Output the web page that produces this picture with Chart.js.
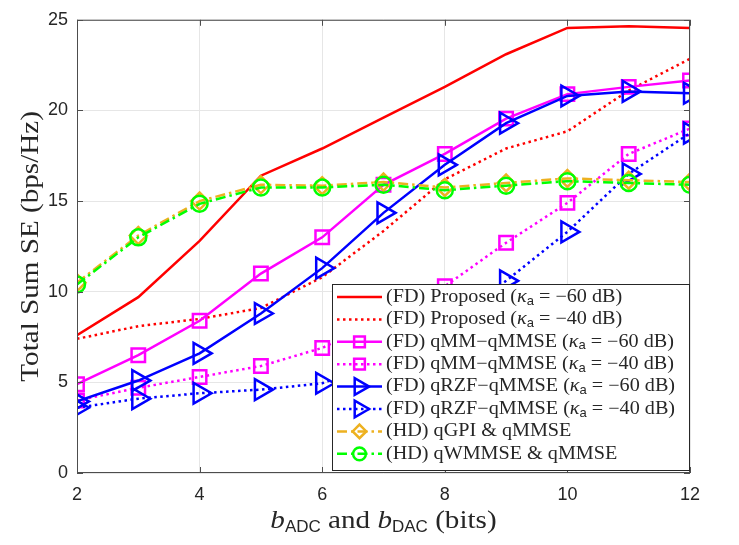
<!DOCTYPE html>
<html>
<head>
<meta charset="utf-8">
<script src="https://cdn.jsdelivr.net/npm/chart.js@4.4.1/dist/chart.umd.min.js"></script>
<style>
  html, body { margin: 0; padding: 0; background: #fff; }
  #wrap { width: 739px; height: 545px; }
</style>
</head>
<body>
<div id="wrap"><canvas id="chartSE" width="739" height="545"></canvas></div>
<script>
// bits on x axis
const bits = [2, 3, 4, 5, 6, 7, 8, 9, 10, 11, 12];
// total sum SE values (bps/Hz)
const proposed60 = [7.6, 9.7, 12.8, 16.4, 17.9, 19.6, 21.3, 23.1, 24.55, 24.65, 24.55];
const proposed40 = [7.4, 8.1, 8.5, 9.1, 10.8, 13.35, 16.2, 17.9, 18.85, 21.1, 22.85];
const qmm60 = [4.9, 6.5, 8.4, 11.0, 13.0, 15.9, 17.6, 19.55, 20.9, 21.3, 21.65];
const qmm40 = [4.0, 4.7, 5.3, 5.9, 6.9, 8.5, 10.3, 12.7, 14.9, 17.6, 19.0];
const qrzf60 = [3.95, 5.1, 6.6, 8.8, 11.3, 14.35, 17.0, 19.3, 20.8, 21.05, 20.95];
const qrzf40 = [3.6, 4.1, 4.4, 4.6, 4.95, 6.2, 8.2, 10.6, 13.3, 16.5, 18.75];
const qgpi = [10.5, 13.1, 15.0, 15.9, 15.85, 16.05, 15.75, 16.0, 16.25, 16.15, 16.05];
const qwmmse = [10.4, 13.0, 14.85, 15.75, 15.75, 15.9, 15.6, 15.85, 16.1, 16.0, 15.9];
const xTicks = [2, 4, 6, 8, 10, 12];
const yTicks = [0, 5, 10, 15, 20, 25];

// legend labels: [prefix, kappa value or null]
const legendNames = [
  ["(FD) Proposed (", "60"],
  ["(FD) Proposed (", "40"],
  ["(FD) qMM\u2212qMMSE (", "60"],
  ["(FD) qMM\u2212qMMSE (", "40"],
  ["(FD) qRZF\u2212qMMSE (", "60"],
  ["(FD) qRZF\u2212qMMSE (", "40"],
  ["(HD) qGPI & qMMSE", null],
  ["(HD) qWMMSE & qMMSE", null],
];

const RED = "#ff0000", MAG = "#ff00ff", BLUE = "#0000ff", GOLD = "#edb120", GREEN = "#00ff00";
const SOLID = [], DOT = [2.5, 3.5], DASHDOT = [10, 4, 2.5, 4];
const SERIF = "'Liberation Serif', 'DejaVu Serif', serif";
const SANS = "'Liberation Sans', Arial, sans-serif";

function pts(ys) {
  return bits.map((b, i) => ({ x: b, y: ys[i] }));
}

function ds(label, ys, color, dash, marker, radius, rot) {
  return {
    label: label,
    data: pts(ys),
    borderColor: color,
    backgroundColor: color,
    borderWidth: 2.5,
    borderDash: dash,
    pointStyle: marker || false,
    pointRadius: marker ? radius : 0,
    pointRotation: rot || 0,
    pointBorderColor: color,
    pointBackgroundColor: "rgba(0,0,0,0)",
    pointBorderWidth: 2.5,
    pointHoverRadius: marker ? radius : 0,
    tension: 0,
    fill: false,
  };
}

const sets = [
  ds("p60", proposed60, RED, SOLID, null),
  ds("p40", proposed40, RED, DOT, null),
  ds("m60", qmm60, MAG, SOLID, "rect", 9.5),
  ds("m40", qmm40, MAG, DOT, "rect", 9.5),
  ds("r60", qrzf60, BLUE, SOLID, "triangle", 12, 90),
  ds("r40", qrzf40, BLUE, DOT, "triangle", 12, 90),
  ds("gpi", qgpi, GOLD, DASHDOT, "rectRot", 8.5),
  ds("wmmse", qwmmse, GREEN, DASHDOT, "circle", 8),
];
// later series drawn on top like matlab
sets.forEach((s, i) => { s.order = sets.length - i; });

function marker(ctx, style, r, x, y, rot) {
  ctx.beginPath();
  if (style === "rect") {
    const s = Math.SQRT1_2 * r;
    ctx.rect(x - s, y - s, 2 * s, 2 * s);
  } else if (style === "rectRot") {
    ctx.moveTo(x, y - r); ctx.lineTo(x + r, y); ctx.lineTo(x, y + r); ctx.lineTo(x - r, y); ctx.closePath();
  } else if (style === "circle") {
    ctx.arc(x, y, r, 0, Math.PI * 2);
  } else if (style === "triangle") {
    const a0 = (rot - 90) * Math.PI / 180;
    for (let k = 0; k < 3; k++) {
      const a = a0 + k * 2 * Math.PI / 3;
      const px = x + Math.cos(a) * r, py = y + Math.sin(a) * r;
      if (k === 0) ctx.moveTo(px, py); else ctx.lineTo(px, py);
    }
    ctx.closePath();
  }
  ctx.stroke();
}

// text pieces, stretched a little so Liberation Serif matches the wider TeX font
function drawParts(ctx, parts, x, y, centered, stretch) {
  ctx.textBaseline = "middle";
  ctx.textAlign = "left";
  let w = 0;
  parts.forEach(p => { ctx.font = p.f; w += ctx.measureText(p.t).width * (p.s || stretch); });
  let cx = centered ? x - w / 2 : x;
  parts.forEach(p => {
    const k = p.s || stretch;
    ctx.font = p.f;
    ctx.save();
    ctx.translate(cx, y + p.dy);
    ctx.scale(k, 1);
    ctx.fillText(p.t, 0, 0);
    ctx.restore();
    cx += ctx.measureText(p.t).width * k;
  });
}

// frame, inner ticks, axis titles and legend
const decorPlugin = {
  id: "decor",
  afterDraw(chart) {
    const ctx = chart.ctx;
    const a = chart.chartArea;
    const sx = chart.scales.x, sy = chart.scales.y;
    ctx.save();
    // box
    ctx.strokeStyle = "#4d4d4d";
    ctx.lineWidth = 1;
    ctx.setLineDash([]);
    ctx.strokeRect(a.left + 0.5, a.top + 0.5, a.right - a.left - 1, a.bottom - a.top - 1);
    // inward ticks
    ctx.beginPath();
    xTicks.forEach(v => {
      const px = Math.round(sx.getPixelForValue(v)) + 0.5;
      ctx.moveTo(px, a.bottom); ctx.lineTo(px, a.bottom - 6);
      ctx.moveTo(px, a.top); ctx.lineTo(px, a.top + 6);
    });
    yTicks.forEach(v => {
      const py = Math.round(sy.getPixelForValue(v)) + 0.5;
      ctx.moveTo(a.left, py); ctx.lineTo(a.left + 6, py);
      ctx.moveTo(a.right, py); ctx.lineTo(a.right - 6, py);
    });
    ctx.stroke();

    // y title
    ctx.fillStyle = "#262626";
    ctx.save();
    ctx.translate(31, (a.top + a.bottom) / 2);
    ctx.rotate(-Math.PI / 2);
    drawParts(ctx, [{ t: "Total Sum SE (bps/Hz)", f: "26px " + SERIF, dy: 0 }], 0, 0, true, 1.12);
    ctx.restore();

    // x title with subscripts
    const xParts = [
      { t: "b", f: "italic 26px " + SERIF, dy: 0 },
      { t: "ADC", f: "17px " + SANS, dy: 6, s: 1 },
      { t: " and ", f: "26px " + SERIF, dy: 0 },
      { t: "b", f: "italic 26px " + SERIF, dy: 0 },
      { t: "DAC", f: "17px " + SANS, dy: 6, s: 1 },
      { t: " (bits)", f: "26px " + SERIF, dy: 0 },
    ];
    drawParts(ctx, xParts, (a.left + a.right) / 2, 521, true, 1.12);

    // legend
    const bw = 357, bh = 186;
    const bx = a.right - bw - 1, by = a.bottom - bh - 3;
    ctx.fillStyle = "#fff";
    ctx.fillRect(bx, by, bw, bh);
    ctx.strokeStyle = "#262626";
    ctx.lineWidth = 1;
    ctx.strokeRect(bx + 0.5, by + 0.5, bw, bh);
    sets.forEach((s, i) => {
      const yy = by + 13 + i * 22.4;
      const x0 = bx + 5, x1 = bx + 50;
      ctx.strokeStyle = s.borderColor;
      ctx.lineWidth = 2.5;
      ctx.setLineDash(s.borderDash);
      ctx.beginPath();
      ctx.moveTo(x0, yy); ctx.lineTo(x1, yy);
      ctx.stroke();
      ctx.setLineDash([]);
      if (s.pointStyle) marker(ctx, s.pointStyle, s.pointRadius * 0.8, (x0 + x1) / 2, yy, s.pointRotation);
      const nm = legendNames[i];
      const parts = [{ t: nm[0], f: "18px " + SERIF, dy: 0 }];
      if (nm[1]) {
        parts.push({ t: "\u03ba", f: "italic 18px " + SERIF, dy: 0 });
        parts.push({ t: "a", f: "13px " + SANS, dy: 4, s: 1 });
        parts.push({ t: " = \u2212" + nm[1] + " dB)", f: "18px " + SERIF, dy: 0 });
      }
      ctx.fillStyle = "#262626";
      drawParts(ctx, parts, x1 + 4, yy, false, 1.12);
    });
    ctx.restore();
  }
};

new Chart(document.getElementById("chartSE"), {
  type: "line",
  data: { datasets: sets },
  options: {
    responsive: false,
    animation: false,
    devicePixelRatio: 1,
    layout: { padding: { top: 19, right: 49, left: 0, bottom: 0 } },
    plugins: { legend: { display: false }, tooltip: { enabled: false } },
    scales: {
      x: {
        type: "linear",
        min: 2, max: 12,
        afterBuildTicks: (s) => { s.ticks = xTicks.map(v => ({ value: v })); },
        afterFit: (s) => { s.height = 72; },
        grid: { color: "#e6e6e6", drawTicks: false },
        border: { display: false },
        ticks: { color: "#262626", font: { family: SANS, size: 18 }, padding: 11, maxRotation: 0 },
      },
      y: {
        min: 0, max: 25,
        afterBuildTicks: (s) => { s.ticks = yTicks.map(v => ({ value: v })); },
        afterFit: (s) => { s.width = 77; },
        grid: { color: "#e6e6e6", drawTicks: false },
        border: { display: false },
        ticks: { color: "#262626", font: { family: SANS, size: 18 }, padding: 9 },
      },
    },
  },
  plugins: [decorPlugin],
});
</script>
</body>
</html>
